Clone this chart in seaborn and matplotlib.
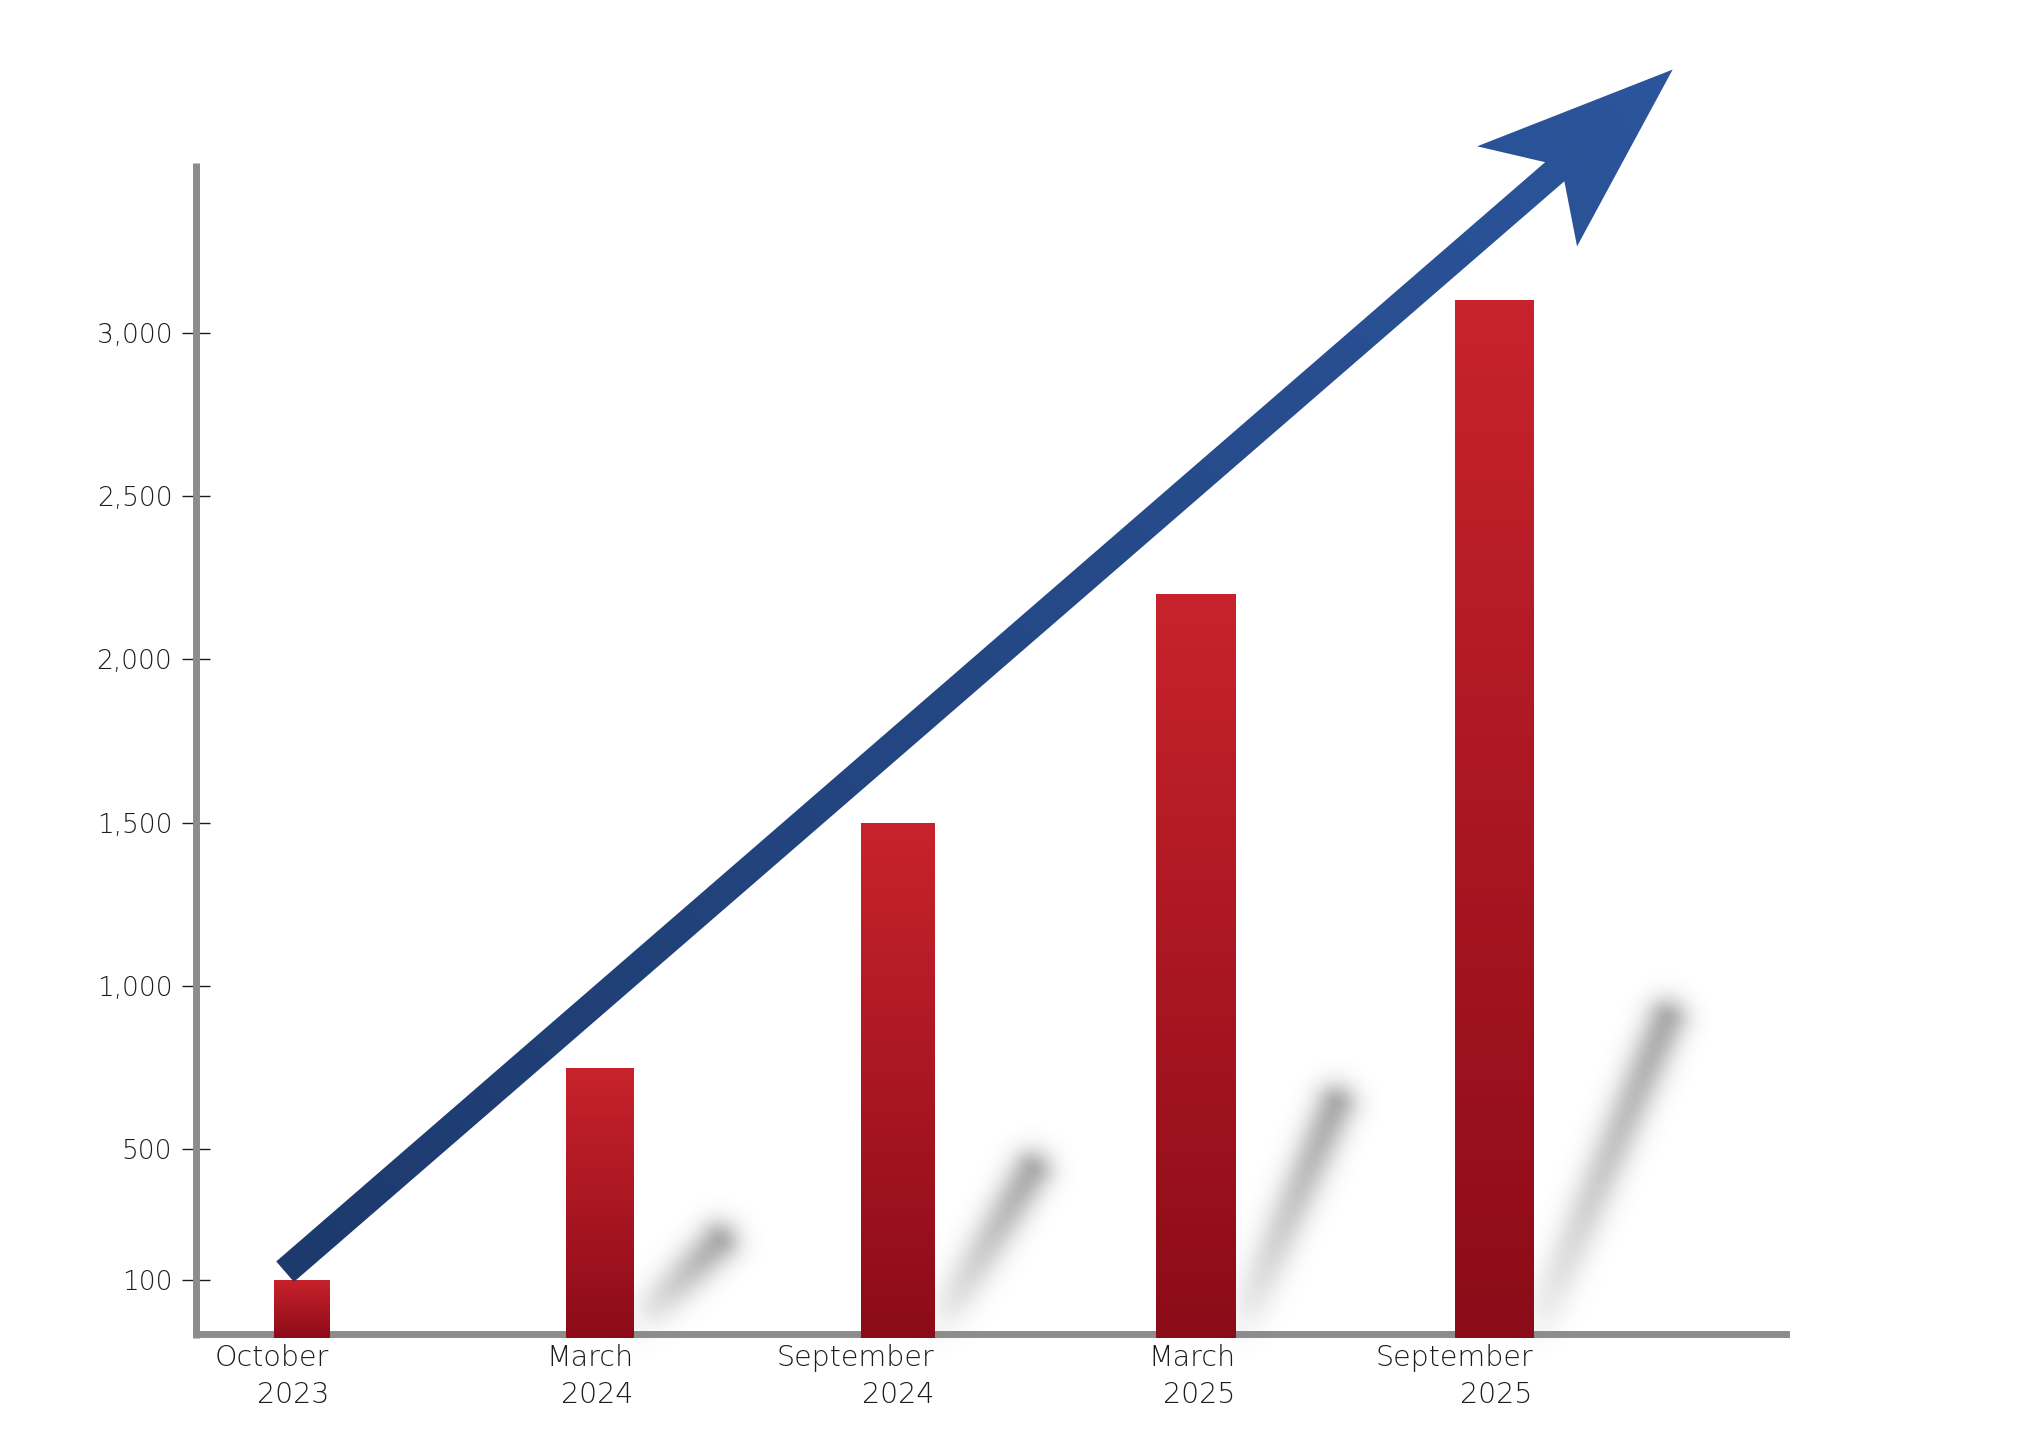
import numpy as np
import pandas as pd
import matplotlib
matplotlib.use("Agg")
import matplotlib.pyplot as plt
from matplotlib.colors import LinearSegmentedColormap, to_rgb
from matplotlib.patches import Polygon
from matplotlib.transforms import IdentityTransform
import seaborn as sns

# Daten
periods = ['October\n2023', 'March\n2024', 'September\n2024', 'March\n2025', 'September\n2025']
counts = [100, 750, 1500, 2200, 3100]
y_ticks = [100, 500, 1000, 1500, 2000, 2500, 3000]

# Stil
bar_widths = [0.185, 0.228, 0.245, 0.268, 0.262]
bar_top = '#c8232c'
bar_bottom = '#8c0b18'
arrow_dark = '#1d3a6d'
arrow_light = '#2c559c'
axis_grey = '#8c8c8c'
text_col = '#1f1b1b'
y_min, y_max = -78, 3520
x_min, x_max = -0.354, 4.98
arrow_start = (-0.055, 125)
arrow_tip = (4.6, 3806)
shadow_dx = [None, 0.40, 0.45, 0.47, 0.58]

df = pd.DataFrame({'period': periods, 'count': counts})

sns.set_theme(style='white')
plt.rcParams['font.family'] = ['DejaVu Sans']

fig = plt.figure(figsize=(20.18, 14.41), dpi=100)
fig.patch.set_facecolor('white')
ax = fig.add_axes([0.0971, 0.0715, 0.7879, 0.8154])
ax.patch.set_alpha(0)

sns.barplot(data=df, x='period', y='count', color=bar_top, saturation=1,
            errorbar=None, ax=ax, zorder=3, linewidth=0)

# Balken: Breite anpassen, unten am Achsenende anfangen, Farbverlauf
bar_cmap = LinearSegmentedColormap.from_list('bars', [bar_bottom, bar_top])
grad = np.linspace(0, 1, 256).reshape(-1, 1)
bars = list(ax.patches)
for p, w in zip(bars, bar_widths):
    c = p.get_x() + p.get_width() / 2
    top = p.get_y() + p.get_height()
    p.set_x(c - w / 2)
    p.set_width(w)
    p.set_y(y_min)
    p.set_height(top - y_min)
    im = ax.imshow(grad, extent=[c - w / 2, c + w / 2, y_min, top], origin='lower',
                   aspect='auto', cmap=bar_cmap, zorder=3.1, interpolation='bilinear')
    im.set_clip_path(p)

ax.set_xlim(x_min, x_max)
ax.set_ylim(y_min, y_max)

# Achsen
for side in ['top', 'right']:
    ax.spines[side].set_visible(False)
for side in ['left', 'bottom']:
    ax.spines[side].set_linewidth(5.0)
    ax.spines[side].set_color(axis_grey)
ax.spines['bottom'].set_capstyle('projecting')
ax.spines['left'].set_capstyle('butt')
ax.spines['bottom'].set_position(('data', -67))

ax.set_yticks(y_ticks, [f'{v:,}' for v in y_ticks])
ax.tick_params(axis='y', left=True, direction='inout', length=20, width=1.0,
               color=text_col, pad=7, labelsize=19, labelcolor=text_col)
ax.set_xticks([p.get_x() + p.get_width() for p in bars], periods)
ax.tick_params(axis='x', bottom=False, length=0, pad=7.0, labelsize=20.5, labelcolor=text_col)
for lbl in ax.get_xticklabels():
    lbl.set_horizontalalignment('right')
    lbl.set_multialignment('right')
    lbl.set_linespacing(1.4)
for lbl in ax.get_xticklabels() + ax.get_yticklabels():
    lbl.set_fontweight('light')
ax.set_xlabel('')
ax.set_ylabel('')

# Unscharfe Schatten neben den Balken
grey = np.array(to_rgb('#5a5a5a'))
for i, p in enumerate(bars):
    if shadow_dx[i] is None:
        continue
    c = p.get_x() + p.get_width() / 2
    B = ax.transData.transform((p.get_x() + p.get_width() + 0.03, -20))
    T = ax.transData.transform((c + shadow_dx[i], counts[i] * 0.29))
    pad = 70
    x0, y0 = int(min(B[0], T[0]) - pad), int(min(B[1], T[1]) - pad)
    x1, y1 = int(max(B[0], T[0]) + pad), int(max(B[1], T[1]) + pad)
    xx, yy = np.meshgrid(np.arange(x0, x1) + 0.5, np.arange(y0, y1) + 0.5)
    d = T - B
    L2 = d @ d
    t = np.clip(((xx - B[0]) * d[0] + (yy - B[1]) * d[1]) / L2, 0, 1)
    dist = np.hypot(xx - (B[0] + t * d[0]), yy - (B[1] + t * d[1]))
    a = 0.5 * np.exp(-dist ** 2 / (2 * 15.0 ** 2)) * (0.15 + 0.85 * t ** 0.8)
    img = np.zeros(xx.shape + (4,))
    img[..., :3] = grey
    img[..., 3] = a
    fig.figimage(img, xo=x0, yo=y0, origin='lower', zorder=-1)

# Pfeil mit Farbverlauf
S = ax.transData.transform(arrow_start)
T = ax.transData.transform(arrow_tip)
L = np.hypot(*(T - S))
u = (T - S) / L
n = np.array([-u[1], u[0]])
hw = 13.5
pts = np.array([S + n * hw, T - u * 157 + n * hw, T - u * 198 + n * 70, T,
                T - u * 188 - n * 71, T - u * 155 - n * hw, S - n * hw])
poly = Polygon(pts, closed=True, transform=IdentityTransform())
x0, y0 = np.floor(pts.min(axis=0)).astype(int) - 2
x1, y1 = np.ceil(pts.max(axis=0)).astype(int) + 2
xx, yy = np.meshgrid(np.arange(x0, x1) + 0.5, np.arange(y0, y1) + 0.5)
s = np.clip(((xx - S[0]) * u[0] + (yy - S[1]) * u[1]) / L, 0, 1)[..., None]
c0, c1 = np.array(to_rgb(arrow_dark)), np.array(to_rgb(arrow_light))
img = np.ones(xx.shape + (4,))
img[..., :3] = c0 + (c1 - c0) * s
aim = fig.figimage(img, xo=x0, yo=y0, origin='lower', zorder=5)
aim.set_clip_path(poly)

fig.savefig('out.png', dpi=100)
